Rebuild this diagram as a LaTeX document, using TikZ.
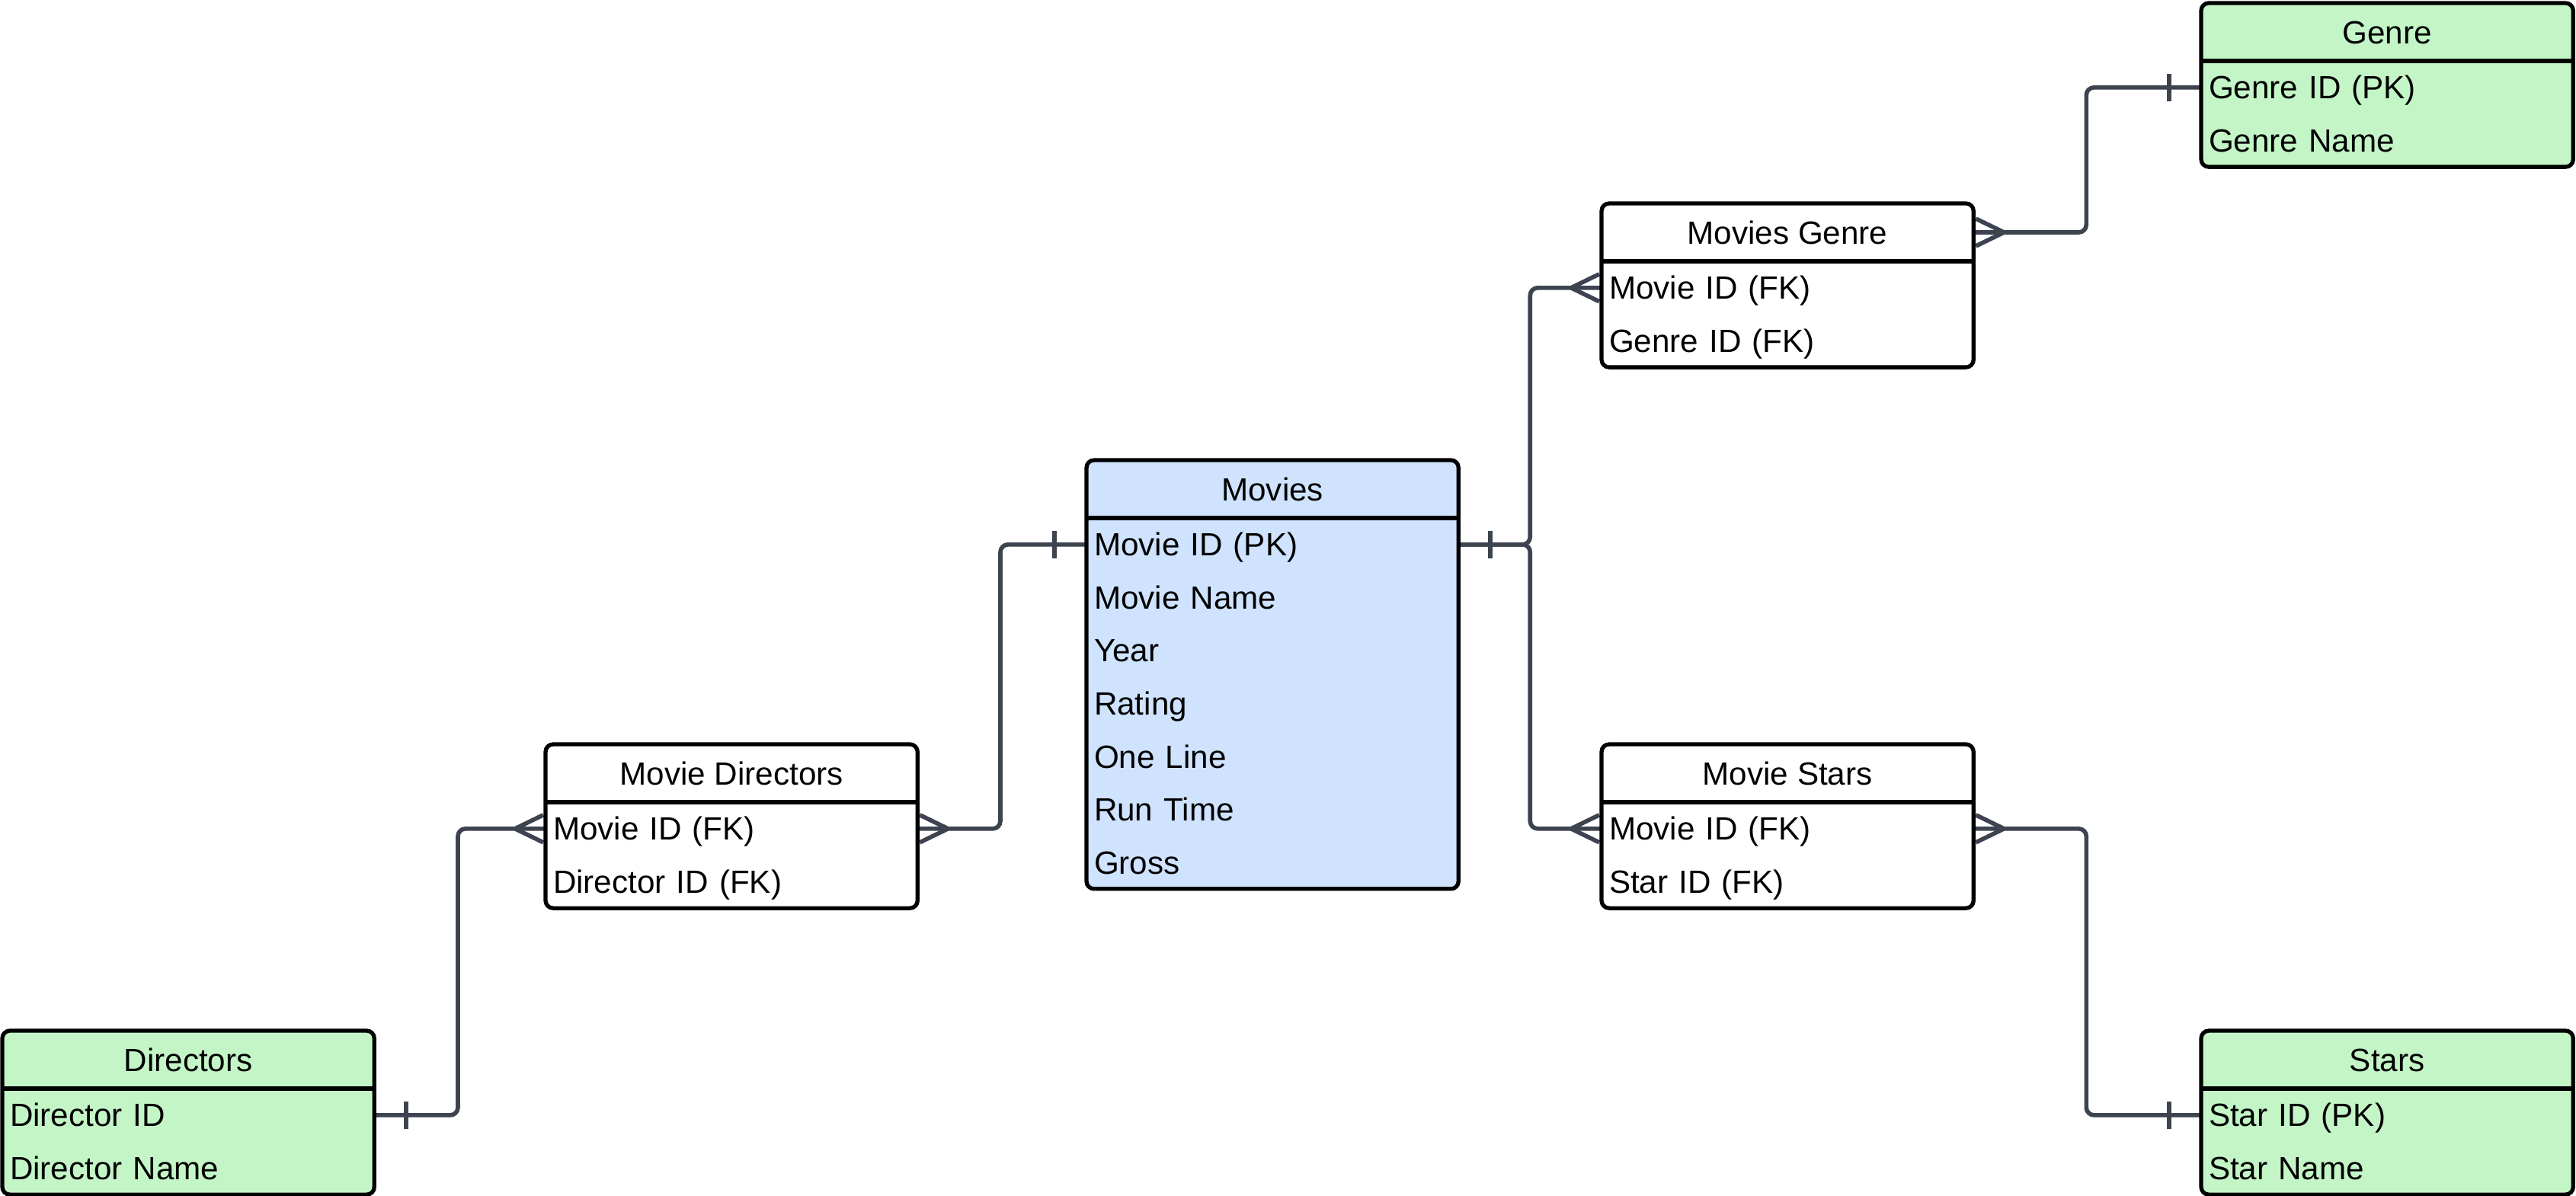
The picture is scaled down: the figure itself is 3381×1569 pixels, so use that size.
\documentclass[tikz,border=0pt]{standalone}
\usepackage{fontspec}
\setmainfont{Liberation Sans}
\usetikzlibrary{positioning,backgrounds}
\definecolor{mblue}{RGB}{207,227,254}
\definecolor{mgreen}{RGB}{196,245,199}
\definecolor{wire}{RGB}{61,68,80}

\begin{document}
\begin{tikzpicture}[x=0.01cm,y=-0.01cm,font=\fontsize{12}{14}\selectfont,
    table/.style={draw=black,line width=1.5pt,rounded corners=1mm,minimum width=4.88cm,anchor=north west,inner sep=0,outer sep=0,fill=white},
    head/.style={minimum width=4.88cm,minimum height=0.76cm,inner sep=0,outer sep=0,text height=3mm,text depth=0pt},
    field/.style={text width=4.68cm,inner xsep=0.1cm,inner ysep=0,minimum height=0.695cm,outer sep=0,align=left,text height=3mm,text depth=0pt},
    rule/.style={draw=black,line width=1.5pt},
    link/.style={draw=wire,line width=1.6pt,rounded corners=1mm},
    crowfoot/.pic={\draw[link,rounded corners=0,line join=round] (3,-18) -- (40,0) -- (3,18);},
    onebar/.pic={\draw[link] (42,-18) -- (42,18);}]

    \useasboundingbox (0,0) rectangle (3381,1569);

    % entity tables
    \node[table,fill=mgreen,minimum height=2.15cm] (genre) at (2889,4) {};
    \node[head,below=0pt of genre.north] (genre-h) {Genre};
    \draw[rule] (genre-h.south west) -- (genre-h.south east);
    \foreach \f [count=\i, remember=\i as \j (initially h)] in {Genre ID (PK),Genre Name}
        \node[field,below=0pt of genre-\j] (genre-\i) {\f};

    \node[table,minimum height=2.15cm] (moviesgenre) at (2102,267) {};
    \node[head,below=0pt of moviesgenre.north] (moviesgenre-h) {Movies Genre};
    \draw[rule] (moviesgenre-h.south west) -- (moviesgenre-h.south east);
    \foreach \f [count=\i, remember=\i as \j (initially h)] in {Movie ID (FK),Genre ID (FK)}
        \node[field,below=0pt of moviesgenre-\j] (moviesgenre-\i) {\f};

    \node[table,fill=mblue,minimum height=5.625cm] (movies) at (1426,604) {};
    \node[head,below=0pt of movies.north] (movies-h) {Movies};
    \draw[rule] (movies-h.south west) -- (movies-h.south east);
    \foreach \f [count=\i, remember=\i as \j (initially h)] in {Movie ID (PK),Movie Name,Year,Rating,One Line,Run Time,Gross}
        \node[field,below=0pt of movies-\j] (movies-\i) {\f};

    \node[table,minimum height=2.15cm] (moviedirectors) at (716,977) {};
    \node[head,below=0pt of moviedirectors.north] (moviedirectors-h) {Movie Directors};
    \draw[rule] (moviedirectors-h.south west) -- (moviedirectors-h.south east);
    \foreach \f [count=\i, remember=\i as \j (initially h)] in {Movie ID (FK),Director ID (FK)}
        \node[field,below=0pt of moviedirectors-\j] (moviedirectors-\i) {\f};

    \node[table,minimum height=2.15cm] (moviestars) at (2102,977) {};
    \node[head,below=0pt of moviestars.north] (moviestars-h) {Movie Stars};
    \draw[rule] (moviestars-h.south west) -- (moviestars-h.south east);
    \foreach \f [count=\i, remember=\i as \j (initially h)] in {Movie ID (FK),Star ID (FK)}
        \node[field,below=0pt of moviestars-\j] (moviestars-\i) {\f};

    \node[table,fill=mgreen,minimum height=2.15cm] (directors) at (3,1353) {};
    \node[head,below=0pt of directors.north] (directors-h) {Directors};
    \draw[rule] (directors-h.south west) -- (directors-h.south east);
    \foreach \f [count=\i, remember=\i as \j (initially h)] in {Director ID,Director Name}
        \node[field,below=0pt of directors-\j] (directors-\i) {\f};

    \node[table,fill=mgreen,minimum height=2.15cm] (stars) at (2889,1353) {};
    \node[head,below=0pt of stars.north] (stars-h) {Stars};
    \draw[rule] (stars-h.south west) -- (stars-h.south east);
    \foreach \f [count=\i, remember=\i as \j (initially h)] in {Star ID (PK),Star Name}
        \node[field,below=0pt of stars-\j] (stars-\i) {\f};

    % relationships
    \begin{scope}[on background layer]
        \draw[link] (movies-1.west) -- ++(-113,0) |- (moviedirectors-1.east);
        \draw[link] (moviedirectors-1.west) -- ++(-115,0) |- (directors-1.east);
        \draw[link] (movies-1.east) -- ++(94,0) |- (moviesgenre-1.west);
        \draw[link] (movies-1.east) -- ++(94,0) |- (moviestars-1.west);
        \draw[link] (moviesgenre-h.east) -- ++(148,0) |- (genre-1.west);
        \draw[link] (moviestars-1.east) -- ++(148,0) |- (stars-1.west);

        \pic[xscale=-1] at (movies-1.west) {onebar};
        \pic at (movies-1.east) {onebar};
        \pic[xscale=-1] at (genre-1.west) {onebar};
        \pic[xscale=-1] at (stars-1.west) {onebar};
        \pic at (directors-1.east) {onebar};

        \pic at (moviedirectors-1.east) {crowfoot};
        \pic[xscale=-1] at (moviedirectors-1.west) {crowfoot};
        \pic[xscale=-1] at (moviesgenre-1.west) {crowfoot};
        \pic[xscale=-1] at (moviestars-1.west) {crowfoot};
        \pic at (moviesgenre-h.east) {crowfoot};
        \pic at (moviestars-1.east) {crowfoot};
    \end{scope}
\end{tikzpicture}
\end{document}
